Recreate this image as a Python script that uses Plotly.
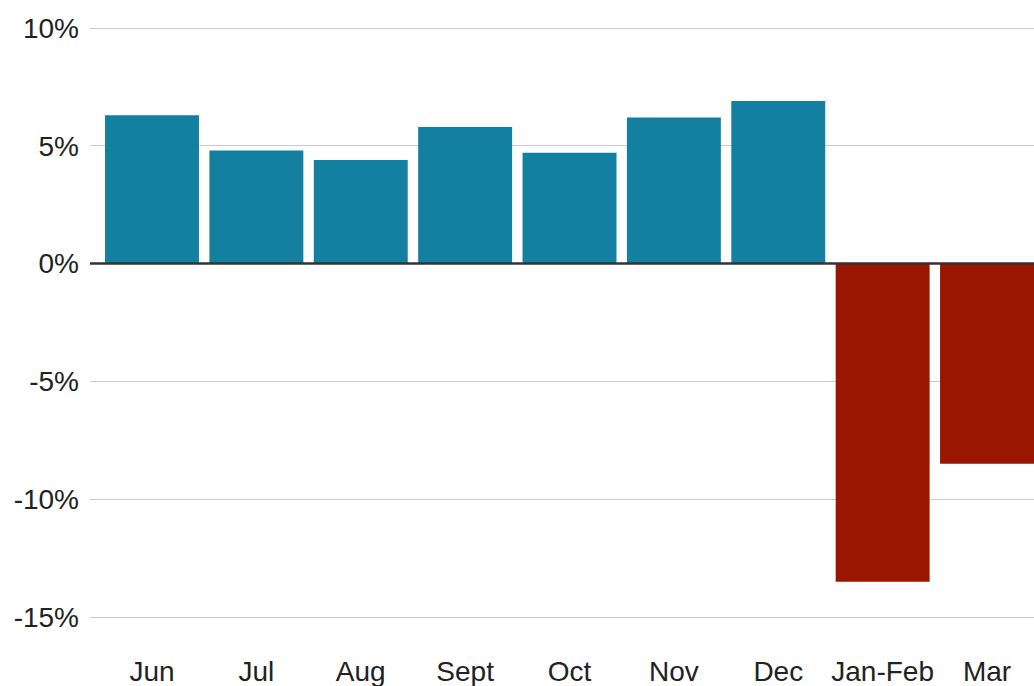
import plotly.graph_objects as go

months = ["Jun", "Jul", "Aug", "Sept", "Oct", "Nov", "Dec", "Jan-Feb", "Mar"]
change_pct = [6.3, 4.8, 4.4, 5.8, 4.7, 6.2, 6.9, -13.5, -8.5]
y_ticks = [-15, -10, -5, 0, 5, 10]

BLUE = "#1380A1"
RED = "#9A1600"
bar_colors = [BLUE if v >= 0 else RED for v in change_pct]

fig = go.Figure(
    go.Bar(
        x=months,
        y=change_pct,
        marker=dict(color=bar_colors, line=dict(width=0)),
        hoverinfo="x+y",
    )
)

W, H = 1034, 686
left, right, top, bottom = 90, 0, 10, 42
px_per_unit = (617 - 28) / 25.0
plot_h = H - top - bottom
y_top = 10 + (28 - top) / px_per_unit
y_bot = y_top - plot_h / px_per_unit

FONT_SIZE = 28

fig.update_layout(
    width=W,
    height=H,
    margin=dict(l=left, r=right, t=top, b=bottom, pad=0),
    paper_bgcolor="white",
    plot_bgcolor="white",
    bargap=0.1,
    showlegend=False,
    font=dict(family="Liberation Sans, Arial, Helvetica, sans-serif", size=FONT_SIZE, color="#222222"),
    xaxis=dict(
        range=[-0.594, 8.45],
        automargin=False,
        showgrid=False,
        showline=False,
        zeroline=False,
        ticks="",
        ticklabelstandoff=8,
        tickfont=dict(size=FONT_SIZE, color="#222222"),
    ),
    yaxis=dict(
        range=[y_bot, y_top],
        automargin=False,
        tickvals=y_ticks,
        ticktext=[f"{v}%" for v in y_ticks],
        showgrid=True,
        gridcolor="#cbcbcb",
        gridwidth=1,
        zeroline=False,
        showline=False,
        ticks="",
        ticklabelstandoff=10,
        tickfont=dict(size=FONT_SIZE, color="#222222"),
    ),
)

# dark baseline at 0%
fig.add_hline(y=0, line=dict(color="#333333", width=2.5), layer="above")

fig.write_html("out.html")
